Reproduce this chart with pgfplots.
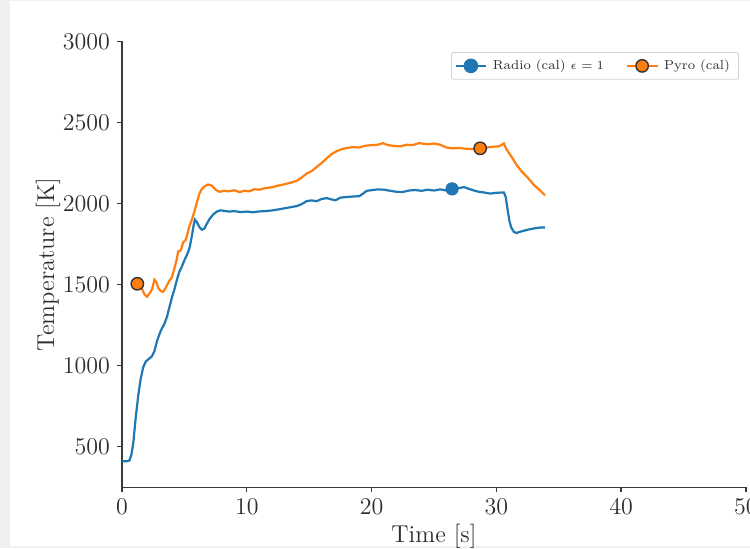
\documentclass[border=0pt]{standalone}
\usepackage{pgfplots}
\pgfplotsset{compat=1.18}
\definecolor{tabblue}{HTML}{1F77B4}
\definecolor{taborange}{HTML}{FF7F0E}
\definecolor{spine}{HTML}{3A3A3A}
\definecolor{txt}{HTML}{2E2E2E}

\begin{document}
\begin{tikzpicture}
% screenshot margin
\fill[black!6] (-61pt,-30.35pt) rectangle (314pt,243.65pt);
\fill[white] (-56pt,-29.35pt) rectangle (314pt,243.15pt);
\begin{scope}
\clip (-61pt,-30.35pt) rectangle (314pt,243.65pt);
\begin{axis}[
    scale only axis,
    width=312pt, height=223pt,
    xmin=0, xmax=50,
    ymin=250, ymax=3000,
    xtick={0,10,20,30,40,50},
    ytick={500,1000,1500,2000,2500,3000},
    /pgf/number format/1000 sep={},
    axis lines*=left,
    axis line style={spine, line width=0.7pt},
    tick style={spine, line width=0.7pt},
    tick align=outside,
    major tick length=2.5pt,
    ticklabel style={font=\fontsize{11.5}{13}\selectfont, text=txt},
    label style={font=\fontsize{12.2}{14}\selectfont, text=txt},
    xlabel={Time [s]},
    ylabel={Temperature [K]},
    xlabel style={at={(axis description cs:0.5,0)}, anchor=base, yshift=-27.8pt},
    ylabel style={at={(axis description cs:-0.1186,0.5)}, anchor=center},
    legend columns=2,
    legend cell align=left,
    legend image code/.code={
        \draw[mark repeat=2,mark phase=2] plot coordinates {(0cm,0cm) (0.27cm,0cm) (0.54cm,0cm)};},
    legend style={at={(rel axis cs:1,1)}, anchor=north east, xshift=-3.5pt, yshift=-5.4pt,
        font=\fontsize{6.5}{8}\selectfont, text=txt, draw=black!18, rounded corners=1pt,
        inner xsep=1.5pt, inner ysep=1.5pt,
        nodes={inner xsep=2.8pt},
        /tikz/every even column/.append style={column sep=8pt}},
]
\addlegendimage{tabblue, line width=1.1pt, mark=*, mark size=3.1pt, mark options={draw=tabblue, fill=tabblue}}
\addlegendentry{Radio (cal) $\epsilon=1$}
\addlegendimage{taborange, line width=1.1pt, mark=*, mark size=3.1pt, mark options={draw=black!80, fill=taborange, line width=0.7pt}}
\addlegendentry{Pyro (cal)}

% Radio (cal)
\addplot[tabblue, line width=1.1pt, forget plot] coordinates {
(0.0,411)(0.3,410)(0.6,415)(0.75,450)(0.9,520)(1.1,680)(1.3,815)(1.5,920)(1.7,990)
(1.9,1025)(2.2,1045)(2.4,1058)(2.6,1090)(2.8,1150)(3.0,1195)(3.2,1230)(3.4,1258)
(3.6,1300)(3.8,1360)(4.0,1420)(4.2,1470)(4.4,1530)(4.6,1580)(4.8,1612)(5.0,1650)
(5.2,1682)(5.4,1722)(5.6,1800)(5.75,1870)(5.85,1900)(6.0,1885)(6.2,1855)(6.4,1838)
(6.6,1845)(6.8,1875)(7.0,1902)(7.3,1932)(7.6,1950)(7.9,1958)(8.2,1954)(8.6,1950)
(9.0,1953)(9.5,1947)(10.0,1950)(10.5,1946)(11.0,1951)(11.5,1953)(12.0,1957)(12.5,1963)
(13.0,1970)(13.5,1977)(14.0,1984)(14.4,1996)(14.8,2015)(15.2,2019)(15.6,2014)(16.0,2028)
(16.4,2033)(16.8,2025)(17.1,2020)(17.5,2036)(18.0,2040)(18.5,2043)(19.0,2045)(19.3,2060)
(19.6,2078)(20.0,2082)(20.5,2087)(21.0,2085)(21.5,2078)(22.0,2072)(22.5,2071)(23.0,2080)
(23.5,2083)(24.0,2078)(24.5,2085)(25.0,2080)(25.5,2087)(26.0,2080)(26.45,2090)(27.0,2095)
(27.4,2101)(27.8,2090)(28.2,2080)(28.6,2072)(29.0,2068)(29.5,2061)(30.0,2066)(30.6,2068)
(30.75,2040)(30.9,1960)(31.05,1890)(31.2,1850)(31.4,1825)(31.6,1818)(32.0,1828)
(32.5,1838)(33.0,1846)(33.5,1852)(33.9,1852)
};
\addplot[only marks, mark=*, mark size=3.1pt, draw=tabblue, fill=tabblue, forget plot]
    coordinates {(26.45,2090)};

% Pyro (cal)
\addplot[taborange, line width=1.1pt, forget plot] coordinates {
(1.23,1505)(1.5,1490)(1.8,1440)(2.0,1425)(2.2,1445)(2.4,1470)(2.6,1530)(2.75,1515)
(2.9,1480)(3.1,1460)(3.3,1455)(3.5,1480)(3.8,1525)(4.0,1545)(4.2,1600)(4.4,1660)
(4.5,1705)(4.7,1710)(4.9,1760)(5.1,1775)(5.2,1800)(5.4,1860)(5.6,1900)(5.8,1950)
(6.0,2005)(6.2,2060)(6.4,2090)(6.6,2105)(6.9,2117)(7.2,2110)(7.5,2085)(7.8,2072)
(8.2,2078)(8.6,2075)(9.0,2082)(9.4,2070)(9.8,2078)(10.2,2075)(10.6,2088)(11.0,2085)
(11.5,2095)(12.0,2100)(12.5,2110)(13.0,2118)(13.5,2128)(14.0,2140)(14.4,2160)(14.8,2185)
(15.2,2200)(15.6,2225)(16.0,2250)(16.4,2278)(16.8,2305)(17.2,2322)(17.6,2335)(18.0,2342)
(18.5,2348)(19.0,2345)(19.5,2356)(20.0,2360)(20.5,2362)(20.9,2372)(21.3,2360)(21.8,2355)
(22.3,2352)(22.8,2362)(23.3,2360)(23.8,2372)(24.2,2368)(24.6,2365)(25.0,2370)(25.5,2362)
(26.0,2345)(26.5,2340)(27.0,2342)(27.5,2338)(28.0,2336)(28.7,2340)(29.2,2345)(29.7,2350)
(30.2,2352)(30.6,2370)(30.8,2335)(31.2,2290)(31.6,2240)(32.0,2200)(32.5,2160)(33.0,2115)
(33.5,2080)(33.9,2050)
};
\addplot[only marks, mark=*, mark size=3.1pt, draw=black!80, fill=taborange, line width=0.7pt, forget plot]
    coordinates {(1.23,1505)(28.7,2340)};
\end{axis}
\end{scope}
\pgfresetboundingbox
\useasboundingbox (-61pt,-30.35pt) rectangle (314pt,243.65pt);
\end{tikzpicture}
\end{document}
